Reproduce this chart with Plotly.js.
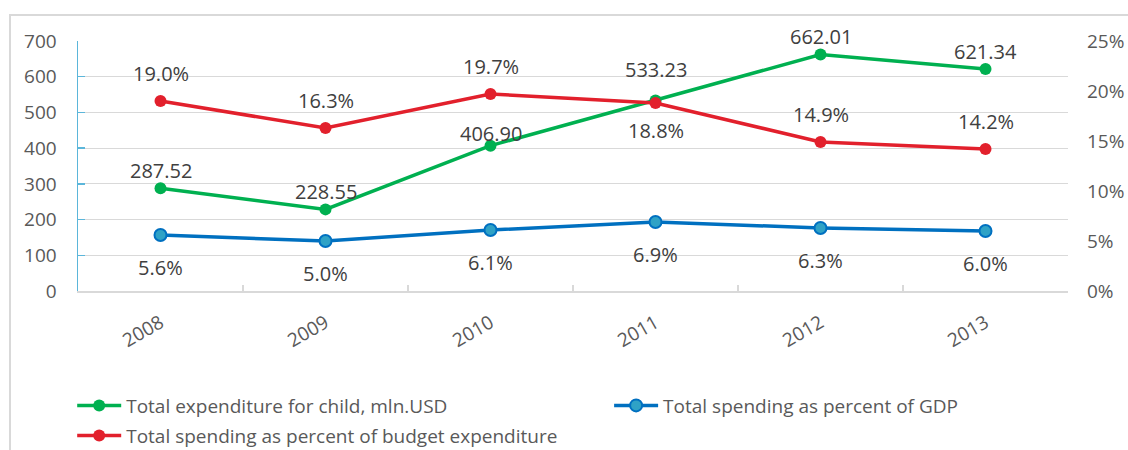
<!DOCTYPE html>
<html>
<head>
<meta charset="utf-8">
<script src="https://cdn.plot.ly/plotly-3.0.1.min.js"></script>
<style>
  html, body { margin: 0; padding: 0; background: #ffffff; }
  #chart { width: 1128px; height: 450px; }
</style>
</head>
<body>
<div id="chart"></div>
<script>
// ---- data ----
const years = ['2008', '2009', '2010', '2011', '2012', '2013'];
const totalExpenditure = [287.52, 228.55, 406.90, 533.23, 662.01, 621.34];   // mln. USD (left axis)
const pctBudget = [19.0, 16.3, 19.7, 18.8, 14.9, 14.2];                      // % (right axis)
const pctGDP = [5.6, 5.0, 6.1, 6.9, 6.3, 6.0];                               // % (right axis)
const seriesNames = [
  'Total expenditure for child, mln.USD',
  'Total spending as percent of GDP',
  'Total spending as percent of budget expenditure'
];

// ---- styles ----
const FONT = 'Open Sans, Liberation Sans, Arial, sans-serif';
const GREEN = '#00B050', RED = '#E2202C', BLUE = '#0070C0', BLUE_FILL = '#2FA2C6';
const LABEL_COLOR = '#404040', TICK_COLOR = '#595959', GRID = '#D9D9D9';

const traces = [
  {
    x: years, y: totalExpenditure, name: seriesNames[0], type: 'scatter', mode: 'lines+markers',
    yaxis: 'y', legend: 'legend',
    line: {color: GREEN, width: 3.5}, marker: {color: GREEN, size: 12},
    hoverinfo: 'skip'
  },
  {
    x: years, y: pctGDP, name: seriesNames[1], type: 'scatter', mode: 'lines+markers',
    yaxis: 'y2', legend: 'legend2',
    line: {color: BLUE, width: 3.5}, marker: {color: BLUE_FILL, size: 12, line: {color: BLUE, width: 2}},
    hoverinfo: 'skip'
  },
  {
    x: years, y: pctBudget, name: seriesNames[2], type: 'scatter', mode: 'lines+markers',
    yaxis: 'y2', legend: 'legend3',
    line: {color: RED, width: 3.5}, marker: {color: RED, size: 12},
    hoverinfo: 'skip'
  }
];

// data labels drawn via axis scales (annotations anchored on the data values)
const annotations = [];
const labelFont = {family: FONT, size: 20, color: LABEL_COLOR};
years.forEach((yr, i) => {
  annotations.push({x: i, y: totalExpenditure[i], xref: 'x', yref: 'y', showarrow: false,
    text: totalExpenditure[i].toFixed(2), font: labelFont,
    yshift: (i === 3 ? 31 : (i === 2 ? 12 : 18))});
  annotations.push({x: i, y: pctBudget[i], xref: 'x', yref: 'y2', showarrow: false,
    text: pctBudget[i].toFixed(1) + '%', font: labelFont,
    yshift: (i === 3 ? -27 : 28)});
  annotations.push({x: i, y: pctGDP[i], xref: 'x', yref: 'y2', showarrow: false,
    text: pctGDP[i].toFixed(1) + '%', font: labelFont, yshift: -32});
});

const legendCommon = {
  orientation: 'v', xref: 'container', yref: 'container', xanchor: 'left', yanchor: 'top',
  bgcolor: 'rgba(0,0,0,0)', borderwidth: 0, itemwidth: 44,
  font: {family: FONT, size: 19, color: TICK_COLOR}
};

const layout = {
  width: 1128, height: 450,
  margin: {l: 78, r: 60, t: 41, b: 159, autoexpand: false},
  paper_bgcolor: '#ffffff', plot_bgcolor: '#ffffff',
  font: {family: FONT, size: 19, color: TICK_COLOR},
  showlegend: true,
  legend: Object.assign({}, legendCommon, {x: 0.064, y: 0.141}),
  legend2: Object.assign({}, legendCommon, {x: 0.540, y: 0.141}),
  legend3: Object.assign({}, legendCommon, {x: 0.064, y: 0.074}),
  xaxis: {
    type: 'category', range: [-0.5, 5.5], automargin: false,
    showline: true, linecolor: GRID, linewidth: 1.5,
    ticks: 'inside', tickson: 'boundaries', ticklen: 6, tickcolor: GRID, tickwidth: 1.5,
    tickangle: -30, ticklabelstandoff: 12,
    tickfont: {family: FONT, size: 19, color: TICK_COLOR},
    showgrid: false, zeroline: false, fixedrange: true
  },
  yaxis: {
    range: [0, 700], dtick: 100, tick0: 0, automargin: false,
    showline: true, linecolor: '#5BB6DA', linewidth: 1.5,
    ticks: 'inside', ticklen: 7, tickcolor: '#5BB6DA', tickwidth: 1.5,
    ticklabelstandoff: 16,
    tickfont: {family: FONT, size: 19, color: TICK_COLOR},
    showgrid: true, gridcolor: GRID, gridwidth: 1.2, zeroline: false, fixedrange: true
  },
  yaxis2: {
    overlaying: 'y', side: 'right', range: [0, 25], dtick: 5, tick0: 0, ticksuffix: '%',
    automargin: false,
    showline: false, ticks: '', showgrid: false, zeroline: false,
    ticklabelstandoff: 18,
    tickfont: {family: FONT, size: 19, color: TICK_COLOR}, fixedrange: true
  },
  annotations: annotations,
  shapes: [{
    type: 'rect', xref: 'paper', yref: 'paper',
    x0: -0.0687, x1: 1.2, y0: -1.0, y1: 1.104,
    line: {color: GRID, width: 2}, fillcolor: 'rgba(0,0,0,0)', layer: 'below'
  }]
};

Plotly.newPlot('chart', traces, layout, {displayModeBar: false, staticPlot: true});
</script>
</body>
</html>
